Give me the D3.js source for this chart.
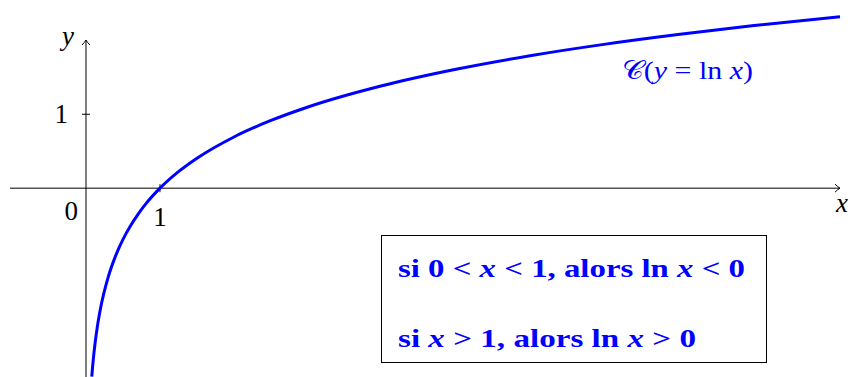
<!DOCTYPE html>
<html><head><meta charset="utf-8">
<script src="https://cdn.jsdelivr.net/npm/d3@7"></script>
<style>body{margin:0;background:#fff}svg{display:block}text{font-family:"Liberation Serif","DejaVu Serif",serif}</style>
</head><body><svg id="c" width="850" height="377"></svg>
<script>
const xDomain = [-1.027, 10.19];
const yDomain = [-2.555, 2.005];
const xTicks = [1];
const yTicks = [1];
const curveX = [0.078,0.09,0.1,0.12,0.15,0.2,0.3,0.4,0.5,0.6,0.7,0.8,1,1.25,1.5,2,2.5,3,4,5,6,7,8,9,10.19];
const curveY = [-2.551,-2.408,-2.303,-2.120,-1.897,-1.609,-1.204,-0.916,-0.693,-0.511,-0.357,-0.223,0,0.223,0.405,0.693,0.916,1.099,1.386,1.609,1.792,1.946,2.079,2.197,2.321];
const curveLabel = ["𝒞(", "y", " = ln ", "x", ")"];
const boxLines = [
  [["si 0 < ","n"],["x","i"],[" < 1, alors ln ","n"],["x","i"],[" < 0","n"]],
  [["si ","n"],["x","i"],[" > 1, alors ln ","n"],["x","i"],[" > 0","n"]]
];
const boxLineWidths = [347, 298];

const svg = d3.select("#c");
const x = d3.scaleLinear().domain(xDomain).range([10, 840]);
const y = d3.scaleLinear().domain(yDomain).range([377, 40]);
const ax = "#000";

// axes
svg.append("line").attr("x1", x(xDomain[0])).attr("x2", x(xDomain[1])).attr("y1", y(0)).attr("y2", y(0)).attr("stroke", ax).attr("stroke-width", 1);
svg.append("line").attr("x1", x(0)).attr("x2", x(0)).attr("y1", y(yDomain[0])).attr("y2", y(yDomain[1])).attr("stroke", ax).attr("stroke-width", 1);
// arrowheads
const xe = x(xDomain[1]), ye = y(yDomain[1]);
svg.append("path").attr("d", `M${xe-5},${y(0)-4} Q${xe-2},${y(0)-1} ${xe},${y(0)} Q${xe-2},${y(0)+1} ${xe-5},${y(0)+4}`).attr("fill","none").attr("stroke",ax).attr("stroke-width",1);
svg.append("path").attr("d", `M${x(0)-4},${ye+5} Q${x(0)-1},${ye+2} ${x(0)},${ye} Q${x(0)+1},${ye+2} ${x(0)+4},${ye+5}`).attr("fill","none").attr("stroke",ax).attr("stroke-width",1);
// ticks
xTicks.forEach(t => {
  svg.append("line").attr("x1", x(t)).attr("x2", x(t)).attr("y1", y(0)-4).attr("y2", y(0)+4).attr("stroke", ax);
  svg.append("text").attr("x", x(t)).attr("y", y(0)+38).attr("text-anchor","middle").attr("font-size",27).text(t);
});
yTicks.forEach(t => {
  svg.append("line").attr("x1", x(0)-4).attr("x2", x(0)+4).attr("y1", y(t)).attr("y2", y(t)).attr("stroke", ax);
  svg.append("text").attr("x", x(0)-18).attr("y", y(t)+9).attr("text-anchor","end").attr("font-size",27).text(t);
});
svg.append("text").attr("x", x(0)-8).attr("y", y(0)+32).attr("text-anchor","end").attr("font-size",27).text("0");
svg.append("text").attr("x", x(0)-12).attr("y", 45).attr("text-anchor","end").attr("font-size",27).attr("font-style","italic").text("y");
svg.append("text").attr("x", 842).attr("y", 212).attr("text-anchor","middle").attr("font-size",27).attr("font-style","italic").text("x");

// curve
const pts = curveX.map((v,i)=>[v, curveY[i]]);
svg.append("path").datum(pts).attr("d", d3.line().x(d=>x(d[0])).y(d=>y(d[1])).curve(d3.curveMonotoneX))
  .attr("fill","none").attr("stroke","#0000ff").attr("stroke-width",3);

// curve label
const cl = svg.append("text").attr("x", 622).attr("y", 79).attr("font-size",26).attr("fill","#0000ff")
  .attr("textLength",131).attr("lengthAdjust","spacingAndGlyphs");
curveLabel.forEach((s,i)=> cl.append("tspan").attr("font-style", (i===1||i===3)?"italic":"normal").text(s));

// box
svg.append("rect").attr("x", 381.5).attr("y", 235.5).attr("width", 385).attr("height", 127).attr("fill","none").attr("stroke","#000").attr("stroke-width",1);
boxLines.forEach((ln, k) => {
  const t = svg.append("text").attr("x", 398).attr("y", k===0?277:347).attr("font-size",26).attr("font-weight","bold").attr("fill","#0000ff")
    .attr("textLength", boxLineWidths[k]).attr("lengthAdjust","spacingAndGlyphs");
  ln.forEach(([s,f]) => t.append("tspan").attr("font-style", f==="i"?"italic":"normal").text(s));
});
</script></body></html>
